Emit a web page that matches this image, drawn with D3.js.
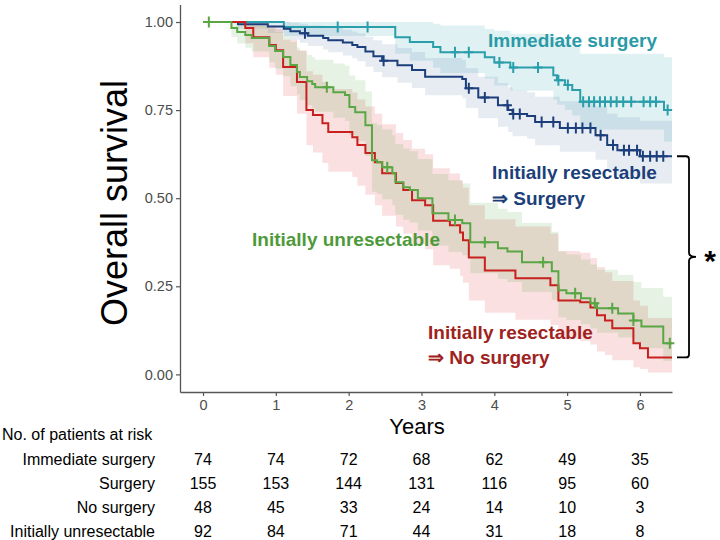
<!DOCTYPE html>
<html><head><meta charset="utf-8">
<script src="https://cdn.jsdelivr.net/npm/d3@7"></script>
<style>body{margin:0;background:#fff}svg{display:block;font-family:"Liberation Sans",Arial,sans-serif}</style>
</head><body><svg id="c" width="720" height="540"></svg>
<script>
// ---------- data ----------
const yearTicks = [0,1,2,3,4,5,6];
const survTicks = [0,0.25,0.5,0.75,1];
const endTime = 6.44;

const tealT = [0,1.11,2.64,2.84,3.16,3.26,3.87,4.00,4.22,4.81,4.86,4.97,5.07,5.18,6.33];
const tealS = [1,.986,.957,.943,.929,.914,.900,.885,.871,.849,.835,.821,.807,.774,.750];
const tealU = [1,1,1,1,.995,.99,.98,.975,.967,.958,.95,.94,.93,.91,.90];
const tealL = [1,.96,.91,.89,.87,.855,.84,.82,.805,.78,.765,.75,.735,.695,.66];
const tealC = [1.85,2.26,3.46,3.65,4.07,4.26,4.60,4.88,5.01,5.22,5.30,5.37,5.45,5.52,5.60,5.68,5.77,5.88,6.05,6.14,6.22,6.38];

const navyT = [0,.48,.89,1.11,1.20,1.33,1.44,1.65,1.72,1.92,2.05,2.12,2.23,2.34,2.46,2.67,2.87,3.05,3.56,3.61,3.78,4.05,4.19,4.25,4.45,4.56,4.90,5.39,5.55,5.69,6.00];
const navyS = [1,.994,.987,.981,.974,.968,.961,.955,.948,.942,.935,.929,.916,.903,.890,.877,.864,.845,.838,.812,.786,.764,.750,.739,.733,.716,.699,.679,.651,.636,.619];
const navyU = [1,1,1,1,.998,.995,.99,.987,.983,.978,.973,.968,.958,.948,.937,.926,.915,.898,.892,.869,.845,.827,.815,.806,.801,.788,.775,.760,.740,.730,.720];
const navyL = [1,.981,.969,.960,.950,.941,.932,.922,.914,.905,.897,.889,.873,.858,.843,.828,.813,.792,.784,.756,.727,.703,.688,.676,.669,.650,.632,.609,.579,.562,.542];
const navyC = [1.40,2.48,3.65,3.87,4.18,4.26,4.35,4.65,4.81,5.01,5.12,5.21,5.32,5.46,5.63,5.78,5.85,5.96,6.04,6.14,6.23,6.32];

const greenT = [0,.39,.47,.58,.67,.91,.99,1.10,1.20,1.29,1.33,1.43,1.50,1.54,1.79,1.95,2.01,2.09,2.23,2.32,2.39,2.46,2.60,2.64,2.75,2.84,2.95,3.15,3.37,3.56,3.67,4.05,4.18,4.38,4.79,4.88,4.99,5.19,5.32,5.41,5.70,5.91,6.02,6.32];
const greenS = [1,.983,.972,.963,.955,.932,.918,.901,.878,.858,.844,.832,.824,.815,.801,.793,.759,.744,.707,.608,.602,.588,.571,.545,.531,.523,.500,.457,.438,.429,.375,.358,.349,.318,.293,.239,.230,.216,.202,.188,.173,.153,.136,.088];
const greenU = [1,1,.999,.995,.99,.98,.972,.96,.943,.928,.917,.907,.9,.893,.882,.876,.848,.835,.803,.713,.708,.695,.679,.654,.641,.633,.611,.569,.551,.542,.487,.470,.461,.430,.405,.349,.340,.326,.312,.297,.282,.262,.245,.22];
const greenL = [1,.957,.939,.927,.916,.886,.868,.846,.818,.794,.778,.764,.755,.745,.728,.719,.680,.662,.620,.518,.512,.497,.480,.453,.439,.431,.408,.366,.347,.338,.287,.271,.262,.234,.211,.162,.154,.142,.130,.118,.105,.088,.074,.038];
const greenC = [0.08,1.70,2.53,3.46,3.87,4.67,5.11,5.38,5.62,5.91,6.41];

const redT = [0,.58,.69,.91,1.00,1.10,1.29,1.42,1.51,1.64,1.72,2.05,2.12,2.23,2.36,2.46,2.65,2.75,2.87,3.05,3.16,3.39,3.53,3.57,3.65,3.87,4.29,4.77,4.88,5.18,5.32,5.41,5.52,5.62,5.91,6.00,6.11];
const redS = [1,.983,.957,.935,.920,.872,.830,.750,.736,.713,.688,.673,.651,.628,.602,.571,.543,.523,.494,.480,.436,.423,.403,.381,.332,.295,.273,.253,.210,.205,.190,.168,.153,.131,.088,.074,.048];
const redU = [1,1,1,.99,.98,.95,.92,.86,.85,.83,.81,.80,.78,.76,.74,.71,.685,.665,.64,.625,.585,.57,.55,.53,.48,.44,.42,.40,.35,.345,.33,.305,.29,.265,.21,.195,.16];
const redL = [1,.94,.90,.87,.85,.79,.74,.65,.63,.60,.575,.56,.535,.51,.48,.45,.42,.40,.37,.355,.31,.30,.28,.26,.21,.175,.155,.14,.10,.095,.085,.065,.055,.04,.02,.015,.005];
const redC = [];

const riskGroups = ["Immediate surgery","Surgery","No surgery","Initially unresectable"];
const riskImmediate = [74,74,72,68,62,49,35];
const riskSurgery = [155,153,144,131,116,95,60];
const riskNoSurgery = [48,45,33,24,14,10,3];
const riskUnresect = [92,84,71,44,31,18,8];

// ---------- chart ----------
const svg = d3.select("#c");
const x = d3.scaleLinear().domain([-0.316, endTime]).range([180, 672]);
const y = d3.scaleLinear().domain([-0.05, 1.05]).range([392, 4.4]);

const series = [
  {T:tealT,S:tealS,U:tealU,L:tealL,C:tealC,color:"#2a9fab",fill:"#2a9fab",op:0.15},
  {T:navyT,S:navyS,U:navyU,L:navyL,C:navyC,color:"#1c3f7c",fill:"#3c64a0",op:0.12},
  {T:redT,S:redS,U:redU,L:redL,C:redC,color:"#c8201e",fill:"#e0302e",op:0.15},
  {T:greenT,S:greenS,U:greenU,L:greenL,C:greenC,color:"#5aa645",fill:"#5aa645",op:0.15}
];
function pts(s){
  const p = s.T.map((t,i)=>({t, s:s.S[i], u:s.U[i], l:s.L[i]}));
  const last = p[p.length-1];
  p.push({t:endTime, s:last.s, u:last.u, l:last.l});
  return p;
}
const area = d3.area().curve(d3.curveStepAfter).x(d=>x(d.t)).y0(d=>y(d.l)).y1(d=>y(d.u));
const line = d3.line().curve(d3.curveStepAfter).x(d=>x(d.t)).y(d=>y(d.s));

const gBand = svg.append("g");
series.forEach(s=>{
  gBand.append("path").attr("d",area(pts(s))).attr("fill",s.fill).attr("fill-opacity",s.op).attr("stroke","none");
});
const gLine = svg.append("g");
series.forEach(s=>{
  gLine.append("path").attr("d",line(pts(s))).attr("fill","none").attr("stroke",s.color).attr("stroke-width",2);
});
series.forEach(s=>{
  s.C.forEach(ct=>{
    let idx = d3.bisectRight(s.T, ct)-1;
    const cx = x(ct), cy = y(s.S[idx]);
    gLine.append("path").attr("d",`M${cx-4.5},${cy}H${cx+4.5}M${cx},${cy-5.5}V${cy+5.5}`)
      .attr("stroke",s.color).attr("stroke-width",2).attr("fill","none");
  });
});

// axes
const yAxis = svg.append("g").attr("transform","translate(180,0)")
  .call(d3.axisLeft(y).tickValues(survTicks).tickFormat(d3.format(".2f")).tickSize(4).tickSizeOuter(0));
const xAxis = svg.append("g").attr("transform","translate(0,392)")
  .call(d3.axisBottom(x).tickValues(yearTicks).tickFormat(d3.format("d")).tickSize(4).tickSizeOuter(0));
[yAxis,xAxis].forEach(a=>{
  a.select(".domain").attr("stroke","#555").attr("stroke-width",1.3);
  a.selectAll(".tick line").attr("stroke","#555").attr("stroke-width",1.2);
  a.selectAll(".tick text").attr("fill","#4d4d4d").style("font-size","14.5px").style("font-family","'Liberation Sans',Arial,sans-serif");
});
yAxis.selectAll(".tick text").attr("x",-7);
xAxis.selectAll(".tick text").attr("y",8);

svg.append("text").attr("transform","translate(127,203) rotate(-90)").attr("text-anchor","middle")
  .style("font-size","36px").attr("fill","#000").text("Overall survival");
svg.append("text").attr("x",417).attr("y",434).attr("text-anchor","middle")
  .style("font-size","22px").attr("fill","#000").text("Years");

// labels
const lab = (t,xx,yy,c)=>svg.append("text").attr("x",xx).attr("y",yy).attr("fill",c)
  .style("font-size","19px").style("font-weight","bold").text(t);
lab("Immediate surgery",488,47,"#2a9aa7");
lab("Initially resectable",492,179,"#1c3f7a");
lab("\u21D2 Surgery",492,205,"#1c3f7a");
lab("Initially unresectable",252,246,"#4e9a3a");
lab("Initially resectable",428,339,"#9e2320");
lab("\u21D2 No surgery",428,364,"#9e2320");

// bracket
const bTop = y(navyS[navyS.length-1]), bBot = y(redS[redS.length-1]), bMid = (bTop+bBot)/2;
svg.append("path").attr("d",`M677,${bTop}H686Q689,${bTop} 689,${bTop+3}V${bMid-4}Q689,${bMid} 696,${bMid}Q689,${bMid} 689,${bMid+4}V${bBot-3}Q689,${bBot} 686,${bBot}H677`)
  .attr("fill","none").attr("stroke","#000").attr("stroke-width",1.8);
svg.append("text").attr("x",710).attr("y",bMid+14).attr("text-anchor","middle")
  .style("font-size","30px").style("font-weight","bold").text("*");

// risk table
svg.append("text").attr("x",2).attr("y",440).style("font-size","16px").attr("fill","#000").text("No. of patients at risk");
const riskRows = [riskImmediate,riskSurgery,riskNoSurgery,riskUnresect];
riskGroups.forEach((g,i)=>{
  const yy = 465 + i*24;
  svg.append("text").attr("x",155).attr("y",yy).attr("text-anchor","end").style("font-size","16px").text(g);
  riskRows[i].forEach((v,j)=>{
    svg.append("text").attr("x",x(yearTicks[j])).attr("y",yy).attr("text-anchor","middle").style("font-size","16px").text(v);
  });
});
</script></body></html>
